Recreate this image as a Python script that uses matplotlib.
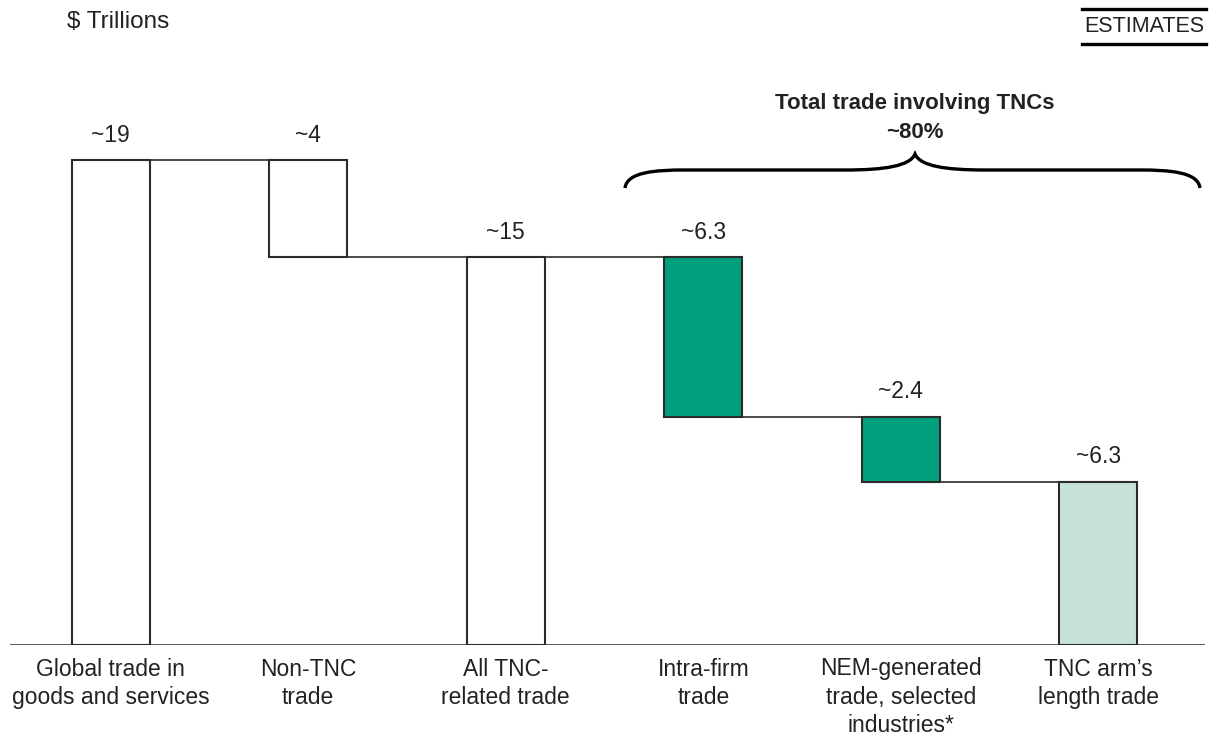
"""Waterfall of global trade split by TNC involvement ($ trillions, estimates)."""

import matplotlib.pyplot as plt
from matplotlib.path import Path
from matplotlib.patches import PathPatch

plt.rcParams['font.family'] = ['Liberation Sans', 'DejaVu Sans']

categories = ["Global trade in\ngoods and services", "Non-TNC\ntrade",
              "All TNC-\nrelated trade", "Intra-firm\ntrade",
              "NEM-generated\ntrade, selected\nindustries*",
              "TNC arm\u2019s\nlength trade"]
# heights as drawn in the source (labels are rounded "~" estimates)
values = [19, 3.8, 15.2, 6.25, 2.55, 6.4]
value_labels = ["~19", "~4", "~15", "~6.3", "~2.4", "~6.3"]
# waterfall steps: total, drop, total, then pieces of the TNC total
bottoms = [0, 19 - 3.8, 0, 15.2 - 6.25, 15.2 - 6.25 - 2.55, 0]
connector_levels = [19, 15.2, 15.2, 15.2 - 6.25, 15.2 - 6.25 - 2.55]

DARK_GREEN = "#00a07f"
LIGHT_GREEN = "#c6e2d6"
bar_colors = ["white", "white", "white", DARK_GREEN, DARK_GREEN, LIGHT_GREEN]
EDGE = "#2b2b2b"
TEXT = "#222222"

W, H = 1210, 736
fig = plt.figure(figsize=(W / 100, H / 100), dpi=100)

# main axes: baseline at y=645px, 19 units = 485px, bar spacing ~197.6px
px_per_unit = 485 / 19
ax_top_px = 60
ax = fig.add_axes([10 / W, (H - 645) / H, 1195 / W, (645 - ax_top_px) / H])
ax.set_ylim(0, (645 - ax_top_px) / px_per_unit)
step = 197.6
ax.set_xlim((10 - 110.5) / step, (1205 - 110.5) / step)
bar_w = 78 / step

xs = list(range(len(values)))
ax.bar(xs, values, bottom=bottoms, width=bar_w, color=bar_colors,
       edgecolor=EDGE, linewidth=1.5, zorder=3)

for i, lvl in enumerate(connector_levels):
    ax.plot([xs[i] + bar_w / 2, xs[i + 1] - bar_w / 2], [lvl, lvl],
            color=EDGE, linewidth=1.2, zorder=2)

for x, v, b, lab in zip(xs, values, bottoms, value_labels):
    ax.annotate(lab, (x, v + b), xytext=(0, 9.5), textcoords="offset points",
                ha="center", va="bottom", fontsize=16.5, color=TEXT)

ax.axhline(0, color=EDGE, linewidth=1.8, zorder=4)
ax.set_xticks(xs)
ax.set_xticklabels(categories, fontsize=16.5, color=TEXT, linespacing=1.3)
ax.tick_params(axis="x", length=0, pad=9)
ax.set_yticks([])
for s in ax.spines.values():
    s.set_visible(False)

# overlay in pixel coordinates for the header and the brace
ov = fig.add_axes([0, 0, 1, 1])
ov.set_xlim(0, W)
ov.set_ylim(H, 0)
ov.axis("off")
ov.patch.set_alpha(0)

ov.text(67, 22, "$ Trillions", fontsize=17.5, color=TEXT,
        ha="left", va="center")
ov.text(1144, 27, "ESTIMATES", fontsize=15.5, color=TEXT,
        ha="center", va="center")
ov.plot([1082, 1206], [9, 9], color="black", linewidth=2.4)
ov.plot([1082, 1206], [44, 44], color="black", linewidth=2.4)

ov.text(915, 103, "Total trade involving TNCs", fontsize=16, weight="bold",
        color=TEXT, ha="center", va="center")
ov.text(915, 133, "~80%", fontsize=16, weight="bold",
        color=TEXT, ha="center", va="center")

x0, xm, x1 = 625, 915, 1200
y_end, y_flat, y_tip = 188, 170, 154
verts = [(x0, y_end), (x0 + 2, y_flat + 2), (x0 + 30, y_flat), (x0 + 60, y_flat),
         (xm - 70, y_flat), (xm - 30, y_flat), (xm - 5, y_flat - 4), (xm, y_tip),
         (xm + 5, y_flat - 4), (xm + 30, y_flat), (xm + 70, y_flat),
         (x1 - 60, y_flat), (x1 - 30, y_flat), (x1 - 2, y_flat + 2), (x1, y_end)]
codes = [Path.MOVETO, Path.CURVE4, Path.CURVE4, Path.CURVE4,
         Path.LINETO, Path.CURVE4, Path.CURVE4, Path.CURVE4,
         Path.CURVE4, Path.CURVE4, Path.CURVE4,
         Path.LINETO, Path.CURVE4, Path.CURVE4, Path.CURVE4]
ov.add_patch(PathPatch(Path(verts, codes), facecolor="none",
                       edgecolor="black", linewidth=2.4))

fig.savefig("out.png", dpi=100)
